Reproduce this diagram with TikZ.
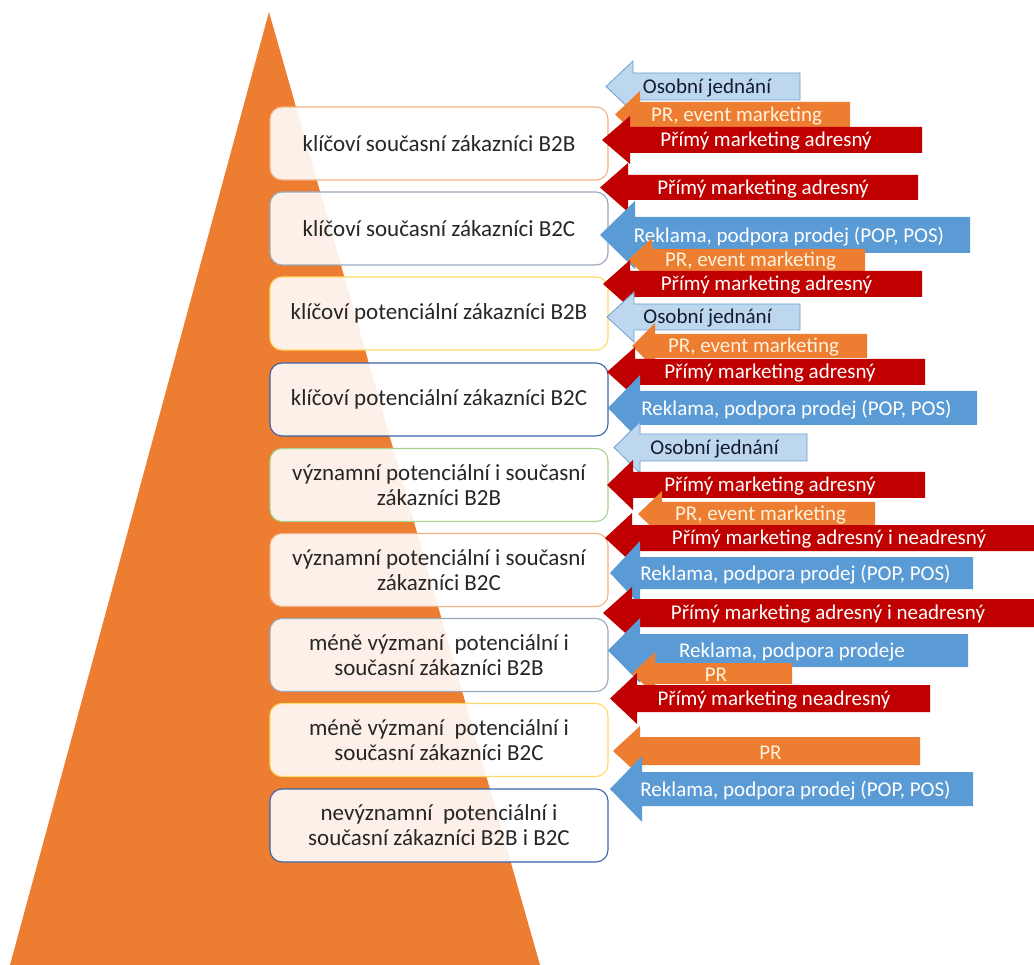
\documentclass[tikz,border=0pt]{standalone}
\usepackage{fontspec}
\setmainfont{Carlito}
\definecolor{pyr}{HTML}{ED7D31}
\definecolor{lbfill}{HTML}{BDD7EE}
\definecolor{lbline}{HTML}{6E9FD0}
\definecolor{lbtext}{HTML}{141B2E}
\definecolor{orfill}{HTML}{ED7D31}
\definecolor{ortext}{HTML}{FFF2DC}
\definecolor{rdfill}{HTML}{C00000}
\definecolor{bluefill}{HTML}{5B9BD5}
\definecolor{bOrange}{HTML}{F4B183}
\definecolor{bGray}{HTML}{9AA8BC}
\definecolor{bGold}{HTML}{FFD966}
\definecolor{bBlue}{HTML}{3B62A8}
\definecolor{bGreen}{HTML}{A9D18E}
\tikzset{
  tier/.style={rectangle, rounded corners=12pt, fill=white, fill opacity=0.89,
    text opacity=1, line width=1.1pt, minimum width=338pt, minimum height=73pt,
    align=center, text=black!85, font=\fontsize{23}{25}\selectfont, inner sep=0pt},
  arLB/.style={fill=lbfill, draw=lbline, line width=0.8pt},
  arLBtext/.style={text=lbtext},
  arOR/.style={fill=orfill},
  arORtext/.style={text=ortext},
  arRD/.style={fill=rdfill},
  arRDtext/.style={text=white},
  arBL/.style={fill=bluefill},
  arBLtext/.style={text=white},
}
% block arrow pointing left: name, style, tip x, head base x, right x, top y, bottom y, head overhang, label
\newcommand\blockarr[9]{%
  \path[#2] (#4,#6) -- (#5,#6) -- (#5,#7) -- (#4,#7) -- (#4,#7+#8)
     -- (#3,{(#6+#7)/2}) -- (#4,#6-#8) -- cycle;
  \node[#2text, font=\fontsize{21}{24}\selectfont, inner sep=0pt]
     (#1) at ({(#3+#5)/2+4},{(#6+#7)/2+1.5}) {#9};
}
\begin{document}
\begin{tikzpicture}[x=1pt,y=-1pt]
\useasboundingbox (0,0) rectangle (1034,965);
% pyramid
\fill[pyr] (269,12) -- (540,965) -- (10,965) -- cycle;
% customer tiers
\node[tier, draw=bOrange] (t1) at (439,143.5) {klíčoví současní zákazníci B2B};
\node[tier, draw=bGray]   (t2) at (439,228.5) {klíčoví současní zákazníci B2C};
\node[tier, draw=bGold]   (t3) at (439,313.5) {klíčoví potenciální zákazníci B2B};
\node[tier, draw=bBlue]   (t4) at (439,399.5) {klíčoví potenciální zákazníci B2C};
\node[tier, draw=bGreen]  (t5) at (439,485)   {významní potenciální i současní\\zákazníci B2B};
\node[tier, draw=bOrange] (t6) at (439,570)   {významní potenciální i současní\\zákazníci B2C};
\node[tier, draw=bGray]   (t7) at (439,655)   {méně výzmaní~ potenciální i\\současní zákazníci B2B};
\node[tier, draw=bGold]   (t8) at (439,740)   {méně výzmaní~ potenciální i\\současní zákazníci B2C};
\node[tier, draw=bBlue]   (t9) at (439,825.5) {nevýznamní~ potenciální i\\současní zákazníci B2B i B2C};
% communication tools
\blockarr{a1}{arLB}{606}{633}{800}{73}{100}{12}{Osobní jednání}
\blockarr{a2}{arOR}{615}{640}{850}{102}{127}{11}{PR, event marketing}
\blockarr{a3}{arRD}{602}{630}{922}{127}{153}{11}{Přímý marketing adresný}
\blockarr{a4}{arRD}{600}{628}{918}{175}{200}{12}{Přímý marketing adresný}
\blockarr{a5}{arBL}{600}{635}{970}{217}{253}{16}{Reklama, podpora prodej (POP, POS)}
\blockarr{a6}{arOR}{628}{652}{865}{249}{271}{11}{PR, event marketing}
\blockarr{a7}{arRD}{603}{630}{922}{271}{297}{11}{Přímý marketing adresný}
\blockarr{a8}{arLB}{607}{634}{800}{304}{330}{12}{Osobní jednání}
\blockarr{a9}{arOR}{632}{655}{867}{334}{358}{11}{PR, event marketing}
\blockarr{a10}{arRD}{607}{635}{925}{359}{385}{12}{Přímý marketing adresný}
\blockarr{a11}{arBL}{608}{640}{977}{391}{425}{16}{Reklama, podpora prodej (POP, POS)}
\blockarr{a12}{arLB}{614}{640}{807}{434}{461}{12}{Osobní jednání}
\blockarr{a13}{arRD}{607}{633}{925}{472}{498}{12}{Přímý marketing adresný}
\blockarr{a14}{arOR}{638}{662}{875}{502}{526}{11}{PR, event marketing}
\blockarr{a15}{arRD}{605}{632}{1045}{525}{551}{12}{Přímý marketing adresný i neadresný}
\blockarr{a16}{arBL}{610}{640}{973}{557}{589}{16}{Reklama, podpora prodej (POP, POS)}
\blockarr{a17}{arRD}{603}{632}{1045}{599}{627}{12}{Přímý marketing adresný i neadresný}
\blockarr{a18}{arBL}{608}{640}{968}{634}{667}{16}{Reklama, podpora prodeje}
\blockarr{a19}{arOR}{632}{655}{792}{663}{684}{11}{PR}
\blockarr{a20}{arRD}{610}{637}{930}{685}{712}{12}{Přímý marketing neadresný}
\blockarr{a21}{arOR}{613}{640}{920}{737}{765}{11}{PR}
\blockarr{a22}{arBL}{610}{642}{973}{772}{806}{16}{Reklama, podpora prodej (POP, POS)}
\end{tikzpicture}
\end{document}
